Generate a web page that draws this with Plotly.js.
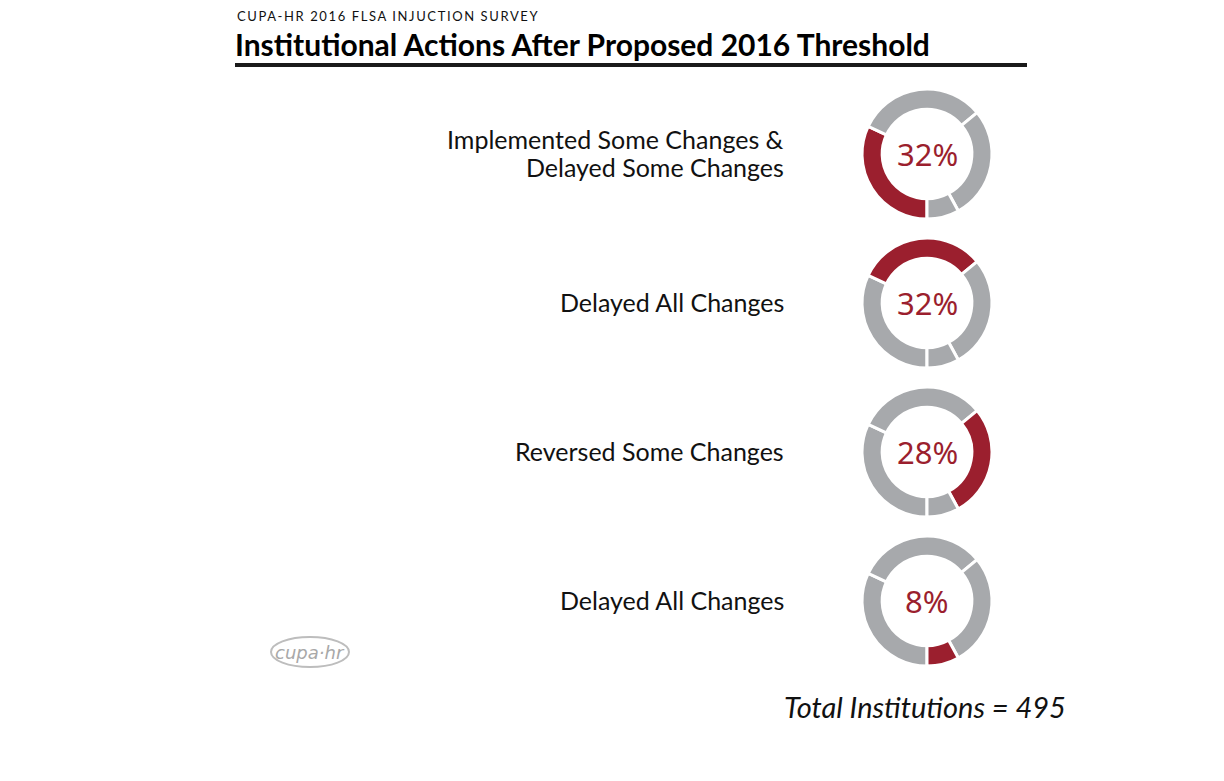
<!DOCTYPE html>
<html>
<head>
<meta charset="utf-8">
<script src="https://cdn.plot.ly/plotly-3.0.1.min.js"></script>
<style>html,body{margin:0;padding:0;background:#fff;}#chart{width:1224px;height:781px;}</style>
</head>
<body>
<div id="chart"></div>
<script>
const categories = ["Implemented Some Changes &<br>Delayed Some Changes", "Delayed All Changes", "Reversed Some Changes", "Delayed All Changes"];
const values = [32, 32, 28, 8];
const percentLabels = ["32%", "32%", "28%", "8%"];
const totalLabel = "Total Institutions = 495";
const supTitle = "CUPA-HR 2016 FLSA INJUCTION SURVEY";
const mainTitle = "Institutional Actions After Proposed 2016 Threshold";

const W = 1224, H = 781;
const RED = "#9b1f2e", GRAY = "#a7a9ac";
const cx = 927, cy0 = 154, dy = 149, R = 65;

const traces = [];
const annotations = [];
categories.forEach((cat, i) => {
  const cy = cy0 + i * dy;
  traces.push({
    type: "pie",
    values: values,
    labels: ["a", "b", "c", "d"],
    sort: false,
    direction: "clockwise",
    rotation: 180,
    hole: 0.69,
    textinfo: "none",
    hoverinfo: "none",
    showlegend: false,
    marker: {colors: values.map((v, j) => j === i ? RED : GRAY), line: {color: "#ffffff", width: 3}},
    domain: {x: [(cx - R) / W, (cx + R) / W], y: [1 - (cy + R) / H, 1 - (cy - R) / H]}
  });
  annotations.push({
    x: cx / W, y: 1 - cy / H, xref: "paper", yref: "paper", showarrow: false,
    text: percentLabels[i], font: {family: "Noto Sans", size: 31, color: RED},
    xanchor: "center", yanchor: "middle"
  });
});
// category labels (one annotation per line for tight line spacing)
categories.forEach((cat, i) => {
  const cy = cy0 + i * dy;
  const lines = cat.split("<br>");
  const lh = 28;
  lines.forEach((ln, k) => {
    const ly = cy - 1 + (k - (lines.length - 1) / 2) * lh;
    annotations.push({
      x: 786 / W, y: 1 - ly / H, xref: "paper", yref: "paper", showarrow: false,
      text: ln, font: {family: "Lato", size: 25, color: "#111"},
      xanchor: "right", yanchor: "middle"
    });
  });
});

const supIndex = annotations.length;
annotations.push({x: 235 / W, y: 1 - 16 / H, xref: "paper", yref: "paper", showarrow: false,
  text: supTitle, font: {family: "Lato", size: 13, color: "#111"}, xanchor: "left", yanchor: "middle"});
annotations.push({x: 233 / W, y: 1 - 44 / H, xref: "paper", yref: "paper", showarrow: false,
  text: "<b>" + mainTitle + "</b>", font: {family: "Lato", size: 30, color: "#000"}, xanchor: "left", yanchor: "middle"});
annotations.push({x: 1068 / W, y: 1 - 706 / H, xref: "paper", yref: "paper", showarrow: false,
  text: "<i>" + totalLabel + "</i>", font: {family: "Lato", size: 29, color: "#111"}, xanchor: "right", yanchor: "middle"});
annotations.push({x: 310 / W, y: 1 - 652 / H, xref: "paper", yref: "paper", showarrow: false,
  text: "<i>cupa·hr</i>", font: {family: "DejaVu Sans", size: 18, color: "#a8a8a8"}, xanchor: "center", yanchor: "middle"});

const shapes = [
  {type: "line", xref: "paper", yref: "paper", x0: 235 / W, x1: 1027 / W, y0: 1 - 65 / H, y1: 1 - 65 / H,
   line: {color: "#1a1a1a", width: 4}},
  {type: "circle", xref: "paper", yref: "paper", x0: 271 / W, x1: 349 / W, y0: 1 - 667 / H, y1: 1 - 637 / H,
   line: {color: "#bdbdbd", width: 2}}
];

Plotly.newPlot("chart", traces, {
  width: W, height: H,
  margin: {l: 0, r: 0, t: 0, b: 0},
  paper_bgcolor: "#fff", plot_bgcolor: "#fff",
  annotations: annotations, shapes: shapes
}, {staticPlot: true}).then(() => {
  const els = document.querySelectorAll('.annotation-text');
  const el = els[supIndex];
  if (el) {
    const before = el.getBoundingClientRect().left;
    el.style.letterSpacing = '1.6px';
    const after = el.getBoundingClientRect().left;
    el.setAttribute('x', parseFloat(el.getAttribute('x') || 0) + (before - after));
  }
});
</script>
</body>
</html>
